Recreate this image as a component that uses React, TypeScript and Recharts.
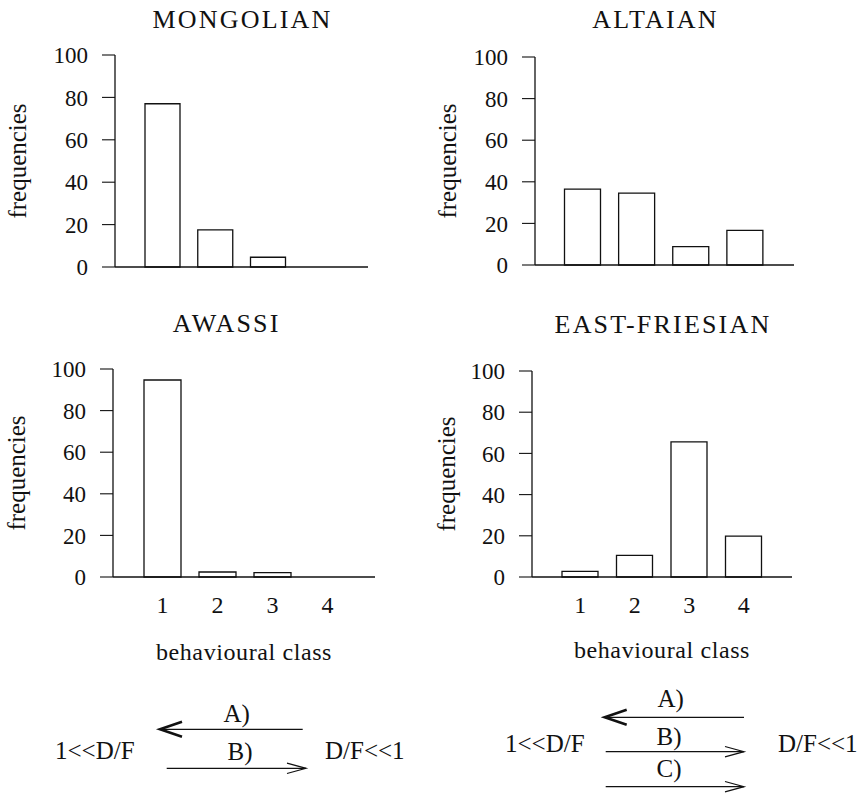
import React from 'react';
import { BarChart, Bar, XAxis, YAxis } from 'recharts';

// ---- data ----
const classes = ['1', '2', '3', '4'];
const mongolian = [77, 17.5, 4.6, 0];
const altaian = [36.5, 34.6, 8.8, 16.6];
const awassi = [94.7, 2.4, 2.1, 0];
const eastFriesian = [2.7, 10.5, 65.6, 19.8];
const yTicks = [0, 20, 40, 60, 80, 100];
const titles = ['MONGOLIAN', 'ALTAIAN', 'AWASSI', 'EAST-FRIESIAN'];
const yLabel = 'frequencies';
const xLabel = 'behavioural class';
const leftSide = '1<<D/F';
const rightSide = 'D/F<<1';
const arrowLabelsLeft = ['A)', 'B)'];
const arrowLabelsRight = ['A)', 'B)', 'C)'];

const FONT = '"Liberation Serif", "Times New Roman", serif';
const INK = '#111111';

const series = [mongolian, altaian, awassi, eastFriesian];

const layouts = [
  { left: 0, top: 0, width: 400, height: 300, margin: { top: 55, right: 32, left: 0, bottom: 0 }, yWidth: 115, xHeight: 33, showX: false, barSize: 35, padL: 21, padR: 21, yLabOff: 17, xLabOff: 0, tx: 242.5, ty: 28 },
  { left: 420, top: 0, width: 400, height: 300, margin: { top: 57, right: 26, left: 0, bottom: 0 }, yWidth: 115, xHeight: 35, showX: false, barSize: 36, padL: 20.5, padR: 22, yLabOff: 27, xLabOff: 0, tx: 655.5, ty: 28 },
  { left: 0, top: 300, width: 400, height: 370, margin: { top: 69, right: 25, left: 0, bottom: 0 }, yWidth: 113, xHeight: 93, showX: true, barSize: 37, padL: 22, padR: 20, yLabOff: 16, xLabOff: 10, tx: 226.7, ty: 332 },
  { left: 420, top: 300, width: 400, height: 370, margin: { top: 71, right: 28, left: 0, bottom: 0 }, yWidth: 112, xHeight: 93, showX: true, barSize: 36, padL: 21, padR: 21, yLabOff: 26, xLabOff: 12, tx: 663, ty: 333 },
];

function Panel({ values, L }: { values: number[]; L: any }) {
  const data = classes.map((c, i) => ({ cls: c, v: values[i] }));
  return (
    <div style={{ position: 'absolute', left: L.left, top: L.top }}>
      <BarChart width={L.width} height={L.height} data={data} margin={L.margin} barCategoryGap={0}>
        <XAxis
          dataKey="cls"
          type="category"
          height={L.xHeight}
          padding={{ left: L.padL, right: L.padR }}
          axisLine={{ stroke: INK, strokeWidth: 1.3 }}
          tickLine={false}
          tickSize={0}
          tickMargin={19}
          tick={L.showX ? { fontSize: 24, fill: INK, fontFamily: FONT } : false}
          interval={0}
          label={
            L.showX
              ? { value: xLabel, position: 'insideBottom', offset: L.xLabOff, style: { fontSize: 24, letterSpacing: 0.6, fill: INK, fontFamily: FONT } }
              : undefined
          }
        />
        <YAxis
          type="number"
          domain={[0, 100]}
          ticks={yTicks}
          interval={0}
          width={L.yWidth}
          axisLine={{ stroke: INK, strokeWidth: 1.3 }}
          tickLine={{ stroke: INK, strokeWidth: 1.1 }}
          tickSize={13}
          tickMargin={14}
          tick={{ fontSize: 23, fill: INK, fontFamily: FONT }}
          label={{
            value: yLabel,
            angle: -90,
            position: 'insideLeft',
            offset: L.yLabOff,
            style: { textAnchor: 'middle', fontSize: 25, fill: INK, fontFamily: FONT },
          }}
        />
        <Bar dataKey="v" fill="#ffffff" stroke={INK} strokeWidth={1.3} barSize={L.barSize} isAnimationActive={false} />
      </BarChart>
    </div>
  );
}

const textStyle = { fontFamily: FONT, fill: INK } as const;

function Arrow({ x1, x2, y, dir, thick }: { x1: number; x2: number; y: number; dir: 'left' | 'right'; thick?: boolean }) {
  const tip = dir === 'left' ? x1 : x2;
  const back = dir === 'left' ? tip + (thick ? 22 : 19) : tip - 19;
  const h = thick ? 7.5 : 5.2;
  return (
    <g>
      <line x1={x1} y1={y} x2={x2} y2={y} stroke={INK} strokeWidth={1.2} />
      <polyline
        points={`${back},${y - h} ${tip},${y} ${back},${y + h}`}
        fill="none"
        stroke={INK}
        strokeWidth={thick ? 2.6 : 1.2}
      />
    </g>
  );
}

export default function App() {
  return (
    <div style={{ position: 'absolute', left: 0, top: 0, width: 858, height: 795, background: '#fff', overflow: 'hidden' }}>
      {series.map((vals, i) => (
        <Panel key={i} values={vals} L={layouts[i]} />
      ))}
      <svg width={858} height={795} style={{ position: 'absolute', left: 0, top: 0, pointerEvents: 'none' }}>
        {titles.map((t, i) => (
          <text key={t} x={layouts[i].tx} y={layouts[i].ty} textAnchor="middle" fontSize={26} letterSpacing={2.2} style={textStyle}>
            {t}
          </text>
        ))}
        {/* left scheme */}
        <text x={55} y={759} fontSize={25} style={textStyle}>{leftSide}</text>
        <text x={325} y={759} fontSize={25} style={textStyle}>{rightSide}</text>
        <text x={236.7} y={721.7} textAnchor="middle" fontSize={25} style={textStyle}>{arrowLabelsLeft[0]}</text>
        <Arrow x1={160} x2={302.7} y={729.3} dir="left" thick />
        <text x={240} y={760} textAnchor="middle" fontSize={25} style={textStyle}>{arrowLabelsLeft[1]}</text>
        <Arrow x1={166.7} x2={306} y={768.3} dir="right" />
        {/* right scheme */}
        <text x={505} y={752} fontSize={25} style={textStyle}>{leftSide}</text>
        <text x={778} y={752} fontSize={25} style={textStyle}>{rightSide}</text>
        <text x={670.7} y={706.7} textAnchor="middle" fontSize={25} style={textStyle}>{arrowLabelsRight[0]}</text>
        <Arrow x1={604.7} x2={744} y={717.3} dir="left" thick />
        <text x={669} y={745} textAnchor="middle" fontSize={25} style={textStyle}>{arrowLabelsRight[1]}</text>
        <Arrow x1={605.7} x2={744} y={751.7} dir="right" />
        <text x={669} y={776.7} textAnchor="middle" fontSize={25} style={textStyle}>{arrowLabelsRight[2]}</text>
        <Arrow x1={605.7} x2={744} y={786.7} dir="right" />
      </svg>
    </div>
  );
}
